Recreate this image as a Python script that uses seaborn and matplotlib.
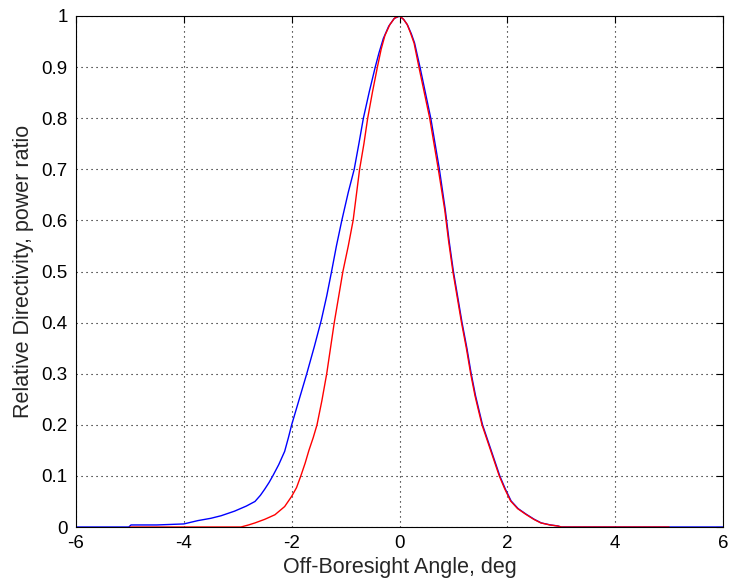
import numpy as np
import pandas as pd
import matplotlib
matplotlib.use("Agg")
import matplotlib.pyplot as plt
import seaborn as sns

# Blue curve (wider beam on the left side)
blue_x = [-6.0, -5.02, -4.98, -4.5, -4.0, -3.74, -3.50, -3.31, -3.06, -2.84, -2.68, -2.58,
          -2.50, -2.42, -2.35, -2.24, -2.13, -2.06, -2.0, -1.93, -1.86, -1.72, -1.58,
          -1.45, -1.35, -1.26, -1.17, -1.07, -0.95, -0.84, -0.75, -0.67, -0.56, -0.45,
          -0.38, -0.30, -0.20, -0.10, 0.0, 0.08, 0.15, 0.22, 0.28, 0.38, 0.48, 0.58,
          0.66, 0.74, 0.85, 0.92, 1.0, 1.08, 1.16, 1.25, 1.33, 1.41, 1.48, 1.54, 1.70, 1.78,
          1.86, 1.96, 2.07, 2.20, 2.35, 2.50, 2.63, 2.80, 2.94, 3.0, 5.0, 6.0]
blue_y = [0.0, 0.0, 0.004, 0.004, 0.006, 0.0125, 0.017, 0.022, 0.031, 0.041, 0.05, 0.062,
          0.074, 0.087, 0.10, 0.122, 0.148, 0.175, 0.20, 0.225, 0.25, 0.30, 0.353,
          0.405, 0.452, 0.50, 0.55, 0.60, 0.655, 0.70, 0.752, 0.80, 0.852, 0.90,
          0.928, 0.956, 0.98, 0.995, 1.0, 0.993, 0.982, 0.965, 0.947, 0.90, 0.85, 0.80,
          0.75, 0.70, 0.62, 0.56, 0.50, 0.45, 0.40, 0.35, 0.30, 0.257, 0.226, 0.20, 0.15, 0.125,
          0.10, 0.075, 0.051, 0.036, 0.025, 0.015, 0.008, 0.004, 0.002, 0.0, 0.0, 0.0]

# Red curve (narrower beam)
red_x = [-5.0, -2.94, -2.80, -2.68, -2.50, -2.31, -2.13, -2.0, -1.91, -1.83, -1.75,
         -1.68, -1.60, -1.53, -1.44, -1.35, -1.28, -1.21, -1.13, -1.05, -0.95, -0.86,
         -0.74, -0.66, -0.59, -0.50, -0.41, -0.34, -0.27, -0.18, -0.09, 0.0, 0.07,
         0.14, 0.20, 0.27, 0.36, 0.46, 0.56, 0.64, 0.72, 0.84, 0.91, 0.99, 1.07, 1.15,
         1.24, 1.32, 1.40, 1.47, 1.53, 1.69, 1.77, 1.85, 1.95, 2.06, 2.19, 2.34, 2.49, 2.62,
         2.79, 2.93, 3.0, 5.0]
red_y = [0.0, 0.0, 0.004, 0.008, 0.015, 0.024, 0.04, 0.06, 0.077, 0.10, 0.125,
         0.15, 0.175, 0.20, 0.247, 0.30, 0.35, 0.40, 0.45, 0.50, 0.55, 0.60,
         0.70, 0.75, 0.80, 0.852, 0.90, 0.935, 0.962, 0.983, 0.996, 1.0, 0.994,
         0.984, 0.968, 0.947, 0.90, 0.85, 0.80, 0.75, 0.70, 0.62, 0.56, 0.50, 0.45, 0.40,
         0.35, 0.30, 0.257, 0.226, 0.20, 0.15, 0.125, 0.10, 0.075, 0.051, 0.036, 0.025, 0.015,
         0.008, 0.004, 0.002, 0.0, 0.0]

x_ticks = [-6, -4, -2, 0, 2, 4, 6]
y_ticks = [0, 0.1, 0.2, 0.3, 0.4, 0.5, 0.6, 0.7, 0.8, 0.9, 1]
y_tick_labels = ["0", "0.1", "0.2", "0.3", "0.4", "0.5", "0.6", "0.7", "0.8", "0.9", "1"]
x_label = "Off-Boresight Angle, deg"
y_label = "Relative Directivity, power ratio"

sns.set_style("white")
plt.rcParams["font.family"] = ["Liberation Sans", "DejaVu Sans"]

fig = plt.figure(figsize=(7.29, 5.88), dpi=100)
ax = fig.add_axes([76 / 729, 1 - 527 / 588, (723 - 76) / 729, (527 - 16) / 588])

blue_df = pd.DataFrame({"x": blue_x, "y": blue_y})
red_df = pd.DataFrame({"x": red_x, "y": red_y})
sns.lineplot(data=blue_df, x="x", y="y", ax=ax, color=(0, 0, 1), linewidth=1.0,
             estimator=None, sort=False)
sns.lineplot(data=red_df, x="x", y="y", ax=ax, color=(1, 0, 0), linewidth=1.0,
             estimator=None, sort=False)

ax.set_xlim(-6, 6)
ax.set_ylim(0, 1)
ax.set_xticks(x_ticks)
ax.set_xticklabels([str(t) for t in x_ticks])
ax.set_yticks(y_ticks)
ax.set_yticklabels(y_tick_labels)
ax.grid(True, color="black", linestyle=(0, (1, 3.5)), linewidth=0.8)
ax.tick_params(direction="in", length=5, width=0.8, top=True, right=True,
               labelsize=13.5, colors="black", pad=6)
for s in ax.spines.values():
    s.set_visible(True)
    s.set_color("black")
    s.set_linewidth(0.8)
ax.set_xlabel(x_label, fontsize=15.5, labelpad=3)
ax.set_ylabel(y_label, fontsize=15.5, labelpad=5)

fig.savefig("out.png", dpi=100, facecolor="white")
